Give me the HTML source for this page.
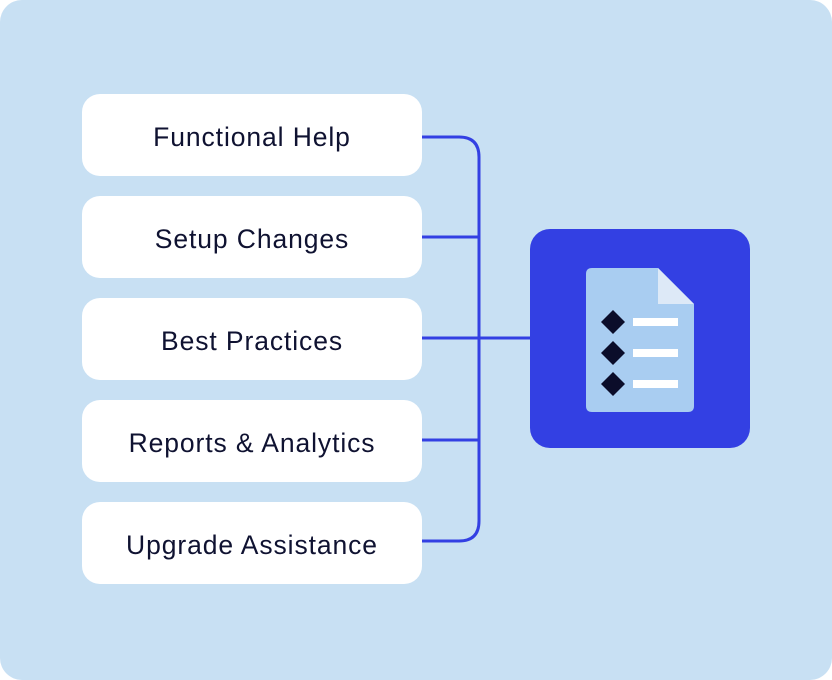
<!DOCTYPE html>
<html><head><meta charset="utf-8"><style>
html,body{margin:0;padding:0;background:#fff}
.bg{position:absolute;left:0;top:0;width:832px;height:680px;background:#c8e0f3;border-radius:22px}
.b{position:absolute;left:82px;width:340px;height:82px;box-sizing:border-box;padding-top:4px;background:#fff;border-radius:18px;display:flex;align-items:center;justify-content:center;font-family:"Liberation Sans",sans-serif;font-size:26.5px;color:#0f1231;letter-spacing:0.9px}
</style></head><body>
<div class="bg"></div>
<div class="b" style="top:94px">Functional Help</div>
<div class="b" style="top:196px">Setup Changes</div>
<div class="b" style="top:298px">Best Practices</div>
<div class="b" style="top:400px">Reports &amp; Analytics</div>
<div class="b" style="top:502px">Upgrade Assistance</div>
<svg width="832" height="680" style="position:absolute;left:0;top:0">
<g fill="none" stroke="#3340e3" stroke-width="3">
<path d="M422 137 H459 Q479 137 479 157 V521 Q479 541 459 541 H422"/>
<path d="M422 237 H479 M422 338 H532 M422 440 H479"/>
</g>
<rect x="530" y="229" width="220" height="219" rx="20" fill="#3340e3"/>
<path d="M592 268 H658 L694 304 V406 Q694 412 688 412 H592 Q586 412 586 406 V274 Q586 268 592 268Z" fill="#a9cdf1"/>
<path d="M658 268 L694 304 H658Z" fill="#dde9f7"/>
<g fill="#0b0d2a">
<path d="M613 310 L625 322 L613 334 L601 322Z"/>
<path d="M613 341 L625 353 L613 365 L601 353Z"/>
<path d="M613 372 L625 384 L613 396 L601 384Z"/>
</g>
<g fill="#fff">
<rect x="633" y="318" width="45" height="8"/>
<rect x="633" y="349" width="45" height="8"/>
<rect x="633" y="380" width="45" height="8"/>
</g>
</svg>
</body></html>
